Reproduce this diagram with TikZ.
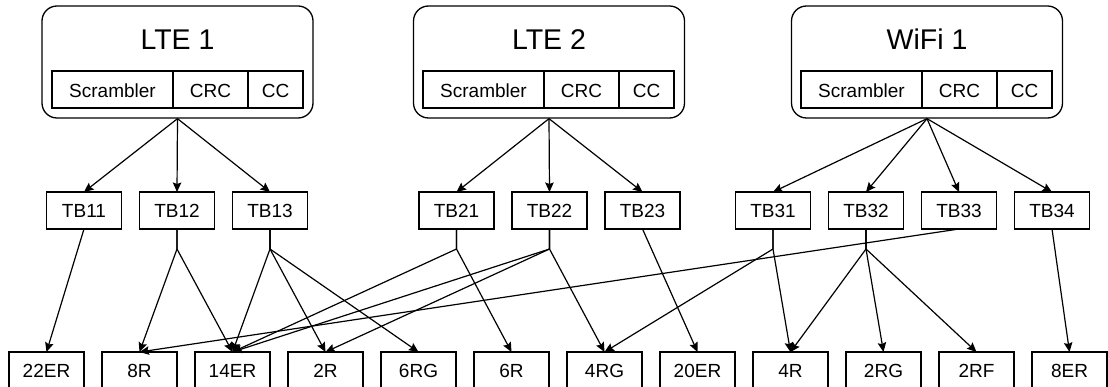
\documentclass[tikz,border=0pt]{standalone}
\usepackage{fontspec}
\setmainfont{Liberation Sans}
\usetikzlibrary{arrows.meta,positioning}

\begin{document}
\begin{tikzpicture}[
  x=1pt, y=-1pt,
  node distance=18pt and 18pt,
  radio/.style={draw, rounded corners=15pt, minimum width=271pt, minimum height=112pt, line width=1.3pt},
  radiotitle/.style={font=\fontsize{28.5}{32}\selectfont},
  cell/.style={draw, line width=1.3pt, outer sep=0pt, inner sep=0pt, minimum height=37pt, anchor=west, text height=17pt, text depth=0pt, font=\fontsize{19}{22}\selectfont},
  box/.style={draw, line width=1.3pt, outer sep=0pt, inner sep=0pt, minimum width=75pt, minimum height=37pt, font=\fontsize{19}{22}\selectfont},
  arrow/.style={-{Stealth[length=9.5pt,width=8.5pt,inset=1.5pt]}, line width=1.2pt}
]
\useasboundingbox (0,0) rectangle (1108,387);

% radios
\node[radio] (lte1) at (177.5,62) {};
\node[radiotitle] (lte1t) at (177.5,39.5) {LTE 1};
\node[cell, minimum width=121pt] (scr1) at (52,89.5) {Scrambler};
\node[cell, minimum width=75pt] (crc1) at (scr1.east) {CRC};
\node[cell, minimum width=55pt] (cc1) at (crc1.east) {CC};

\node[radio] (lte2) at (549,62) {};
\node[radiotitle] (lte2t) at (549,39.5) {LTE 2};
\node[cell, minimum width=121pt] (scr2) at (423,89.5) {Scrambler};
\node[cell, minimum width=75pt] (crc2) at (scr2.east) {CRC};
\node[cell, minimum width=55pt] (cc2) at (crc2.east) {CC};

\node[radio] (wifi1) at (927,62) {};
\node[radiotitle] (wifi1t) at (927,39.5) {WiFi 1};
\node[cell, minimum width=121pt] (scr3) at (801,89.5) {Scrambler};
\node[cell, minimum width=75pt] (crc3) at (scr3.east) {CRC};
\node[cell, minimum width=55pt] (cc3) at (crc3.east) {CC};

% transport blocks
\node[box] (tb11) at (84,210.5) {TB11};
\node[box, right=of tb11] (tb12) {TB12};
\node[box, right=of tb12] (tb13) {TB13};
\node[box] (tb21) at (456.5,210.5) {TB21};
\node[box, right=of tb21] (tb22) {TB22};
\node[box, right=of tb22] (tb23) {TB23};
\node[box] (tb31) at (773,210.5) {TB31};
\node[box, right=of tb31] (tb32) {TB32};
\node[box, right=of tb32] (tb33) {TB33};
\node[box, right=of tb33] (tb34) {TB34};

% resources
\node[box] (r22er) at (46.5,370.5) {22ER};
\node[box, right=of r22er] (r8r) {8R};
\node[box, right=of r8r] (r14er) {14ER};
\node[box, right=of r14er] (r2r) {2R};
\node[box, right=of r2r] (r6rg) {6RG};
\node[box, right=of r6rg] (r6r) {6R};
\node[box, right=of r6r] (r4rg) {4RG};
\node[box, right=of r4rg] (r20er) {20ER};
\node[box, right=of r20er] (r4r) {4R};
\node[box, right=of r4r] (r2rg) {2RG};
\node[box, right=of r2rg] (r2rf) {2RF};
\node[box, right=of r2rf] (r8er) {8ER};

% branch points
\coordinate (b12) at ([yshift=-20pt]tb12.south);
\coordinate (b13) at ([yshift=-20pt]tb13.south);
\coordinate (b21) at ([yshift=-20pt]tb21.south);
\coordinate (b22) at ([yshift=-20pt]tb22.south);
\coordinate (b31) at ([yshift=-20pt]tb31.south);
\coordinate (b32) at ([yshift=-20pt]tb32.south);

\draw[arrow] (lte1.south) -- (tb11.north);
\draw[arrow] (lte1.south) -- (tb12.north);
\draw[arrow] (lte1.south) -- (tb13.north);
\draw[arrow] (lte2.south) -- (tb21.north);
\draw[arrow] (lte2.south) -- (tb22.north);
\draw[arrow] (lte2.south) -- (tb23.north);
\draw[arrow] (wifi1.south) -- (tb31.north);
\draw[arrow] (wifi1.south) -- (tb32.north);
\draw[arrow] (wifi1.south) -- (tb33.north);
\draw[arrow] (wifi1.south) -- (tb34.north);

\draw[arrow] (tb11.south) -- (r22er.north);
\draw[arrow] (tb12.south) -- (b12) -- (r8r.north);
\draw[arrow] (tb12.south) -- (b12) -- (r14er.north);
\draw[arrow] (tb13.south) -- (b13) -- (r14er.north);
\draw[arrow] (tb13.south) -- (b13) -- (r2r.north);
\draw[arrow] (tb13.south) -- (b13) -- (r6rg.north);
\draw[arrow] (tb21.south) -- (b21) -- (r14er.north);
\draw[arrow] (tb21.south) -- (b21) -- (r6r.north);
\draw[arrow] (tb22.south) -- (b22) -- (r14er.north);
\draw[arrow] (tb22.south) -- (b22) -- (r2r.north);
\draw[arrow] (tb22.south) -- (b22) -- (r4rg.north);
\draw[arrow] (tb23.south) -- (r20er.north);
\draw[arrow] (tb31.south) -- (b31) -- (r4rg.north);
\draw[arrow] (tb31.south) -- (b31) -- (r4r.north);
\draw[arrow] (tb32.south) -- (b32) -- (r4r.north);
\draw[arrow] (tb32.south) -- (b32) -- (r2rg.north);
\draw[arrow] (tb32.south) -- (b32) -- (r2rf.north);
\draw[arrow] (tb33.south) -- (r8r.north);
\draw[arrow] (tb34.south) -- (r8er.north);
\end{tikzpicture}
\end{document}
